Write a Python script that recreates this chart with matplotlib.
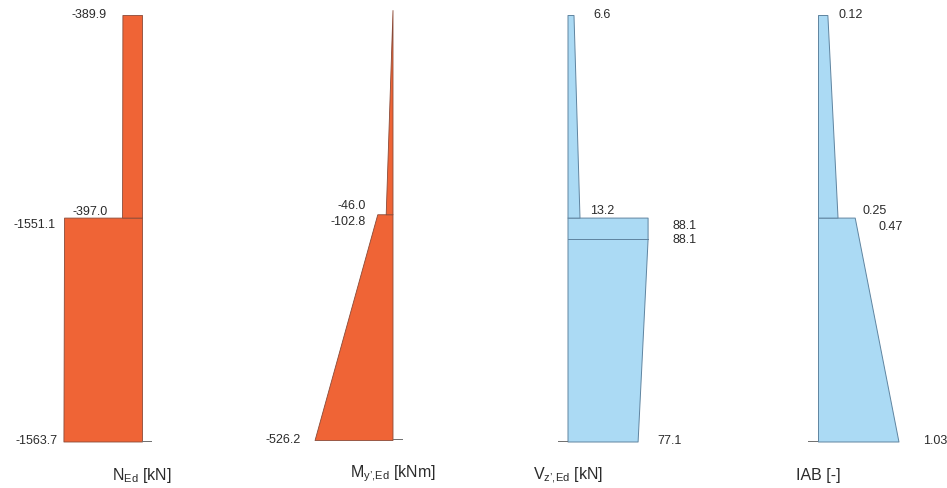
import matplotlib.pyplot as plt

plt.rcParams['font.family'] = ['Liberation Sans', 'DejaVu Sans']
plt.rcParams['mathtext.fontset'] = 'custom'
plt.rcParams['mathtext.rm'] = 'Liberation Sans'
plt.rcParams['mathtext.it'] = 'Liberation Sans:italic'

# levels along the column (m), bottom -> top
z_lower = [0.0, 4.2]
z_upper = [4.2, 8.0]
z_lower_v = [0.0, 3.8, 4.2]

# internal forces, bottom -> top of each segment
n_lower = [-1563.7, -1551.1]
n_upper = [-397.0, -389.9]
m_lower = [-526.2, -102.8]
m_upper = [-46.0, 0.0]
v_lower = [77.1, 88.1, 88.1]
v_upper = [13.2, 6.6]
iab_lower = [1.03, 0.47]
iab_upper = [0.25, 0.12]

titles = [r'N$_{\mathrm{Ed}}$ [kN]', "M$_{\\mathrm{y\u2019{,}Ed}}$ [kNm]",
          "V$_{\\mathrm{z\u2019{,}Ed}}$ [kN]", 'IAB [-]']

W, H = 947, 488
ORANGE = '#EF6436'
ORANGE_EDGE = '#8a4a38'
BLUE = '#ABDAF4'
BLUE_EDGE = '#5f84a0'
TXT = '#2b2b2b'

fig = plt.figure(figsize=(W / 100, H / 100), dpi=100)


def add_panel(px_left, px_right, px_base, px_bottom, px_top, units_per_px):
    ax = fig.add_axes([px_left / W, (H - px_bottom) / H,
                       (px_right - px_left) / W, (px_bottom - px_top) / H])
    ax.set_xlim((px_left - px_base) * units_per_px, (px_right - px_base) * units_per_px)
    ax.set_ylim(0, 8.0)
    ax.axis('off')
    return ax


def label(ax, v, z, dx, dy, fmt='{:.1f}'):
    ax.annotate(fmt.format(v), xy=(v, z), xytext=(dx, dy), textcoords='offset pixels',
                ha='right' if dx < 0 else 'left', va='center', fontsize=9, color=TXT)


def finish(ax, title, stub):
    ax.plot([0, stub], [0, 0], color='#6f6f6f', lw=1.4, solid_capstyle='butt')
    ax.annotate(title, xy=(0, 0), xytext=(0, -34), textcoords='offset pixels',
                ha='center', va='center', fontsize=11.5, color=TXT)


# N_Ed
s = 19.9
ax = add_panel(0, 237, 142, 441.5, 15, s)
ax.fill_betweenx(z_lower, 0, n_lower, color=ORANGE, ec=ORANGE_EDGE, lw=0.6)
ax.fill_betweenx(z_upper, 0, n_upper, color=ORANGE, ec=ORANGE_EDGE, lw=0.6)
label(ax, n_upper[1], z_upper[1], -16, 0)
label(ax, n_upper[0], z_upper[0], -14, 6)
label(ax, n_lower[1], z_lower[1], -8, -7)
label(ax, n_lower[0], z_lower[0], -6, 0)
finish(ax, titles[0], 10 * s)

# M_y',Ed
s = 6.75
ax = add_panel(237, 475, 392.5, 440, 10, s)
ax.fill_betweenx(z_lower, 0, m_lower, color=ORANGE, ec=ORANGE_EDGE, lw=0.6)
ax.fill_betweenx(z_upper, 0, m_upper, color=ORANGE, ec=ORANGE_EDGE, lw=0.6)
label(ax, m_upper[0], z_upper[0], -20, 8)
label(ax, m_lower[1], z_lower[1], -12, -8)
label(ax, m_lower[0], z_lower[0], -14, 0)
finish(ax, titles[1], 10 * s)

# V_z',Ed
s = 1.1
ax = add_panel(475, 712, 567.5, 441.5, 15, s)
ax.fill_betweenx(z_lower_v, 0, v_lower, color=BLUE, ec=BLUE_EDGE, lw=0.7)
ax.fill_betweenx(z_upper, 0, v_upper, color=BLUE, ec=BLUE_EDGE, lw=0.7)
ax.plot([0, v_lower[1]], [z_lower_v[1], z_lower_v[1]], color=BLUE_EDGE, lw=0.7)
label(ax, v_upper[1], z_upper[1], 20, 0)
label(ax, v_upper[0], z_upper[0], 11, 7)
label(ax, v_lower[2], z_lower_v[2], 25, -8)
label(ax, v_lower[1], z_lower_v[1], 25, -1)
label(ax, v_lower[0], z_lower_v[0], 20, 0)
finish(ax, titles[2], -10 * s)

# IAB
s = 0.0128
ax = add_panel(712, 947, 818, 441.5, 15, s)
ax.fill_betweenx(z_lower, 0, iab_lower, color=BLUE, ec=BLUE_EDGE, lw=0.7)
ax.fill_betweenx(z_upper, 0, iab_upper, color=BLUE, ec=BLUE_EDGE, lw=0.7)
label(ax, iab_upper[1], z_upper[1], 11, 0, '{:.2f}')
label(ax, iab_upper[0], z_upper[0], 25, 7, '{:.2f}')
label(ax, iab_lower[1], z_lower[1], 24, -9, '{:.2f}')
label(ax, iab_lower[0], z_lower[0], 25, 0, '{:.2f}')
finish(ax, titles[3], -10 * s)

fig.savefig('out.png', dpi=100)
